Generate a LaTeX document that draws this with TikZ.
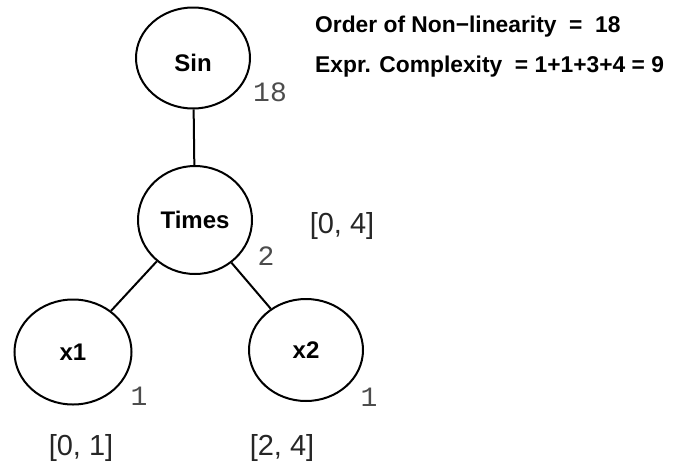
\documentclass[tikz,border=0pt]{standalone}
\usepackage{fontspec}
\setmainfont{Liberation Sans}
\newfontfamily\monof{Liberation Mono}
\usetikzlibrary{shapes.geometric}
\begin{document}
\begin{tikzpicture}[x=1pt,y=-1pt,
  opnode/.style={ellipse, draw, line width=2pt, inner sep=0pt, font=\fontsize{24}{24}\selectfont\bfseries},
  edge/.style={line width=2pt},
  cnum/.style={inner sep=0pt, text=black!70, font=\monof\fontsize{28}{28}\selectfont},
  rng/.style={inner sep=0pt, text=black!85, font=\fontsize{29}{29}\selectfont},
  info/.style={inner sep=0pt, anchor=base west, font=\fontsize{22.8}{23}\selectfont\bfseries}]
\useasboundingbox (0,0) rectangle (680,469);
\node[opnode, minimum width=114pt, minimum height=101pt, text height=27pt] (sin) at (193,58) {Sin};
\node[opnode, minimum width=114pt, minimum height=108pt] (times) at (195,220) {Times};
\node[opnode, minimum width=117pt, minimum height=105pt] (xa) at (73,352) {x1};
\node[opnode, minimum width=114pt, minimum height=102pt] (xb) at (306,350) {x2};
\draw[edge] (sin) -- (times);
\draw[edge] (times) -- (xa);
\draw[edge] (times) -- (xb);
\node[cnum] (n18) at (270,92) {18};
\node[cnum] (n2) at (266,256) {2};
\node[cnum] (n1a) at (139,396) {1};
\node[cnum] (n1b) at (369,397) {1};
\node[rng] (r04) at (342,226) {[0, 4]};
\node[rng] (r01) at (81,448) {[0, 1]};
\node[rng] (r24) at (282,448) {[2, 4]};
\node[info] (ord) at (315,32) {Order of Non−linearity\ \ =\ \ 18};
\node[info] (cpx) at (315,72) {Expr. Complexity\ \ = 1+1+3+4 = 9};
\end{tikzpicture}
\end{document}
